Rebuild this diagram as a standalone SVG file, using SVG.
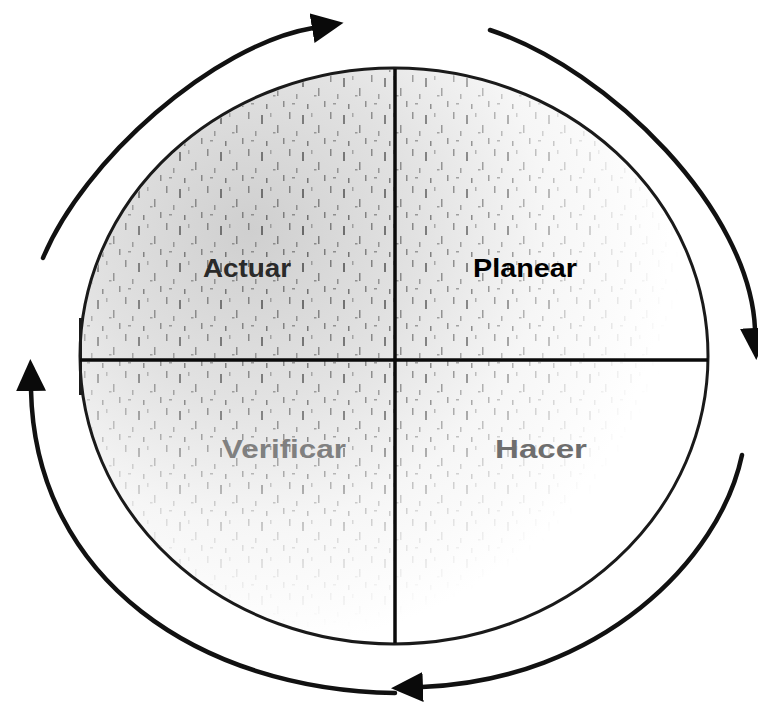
<svg xmlns="http://www.w3.org/2000/svg" width="758" height="702" viewBox="0 0 758 702">
  <style>
    .arc { fill: none; stroke: #111; stroke-width: 4.5; stroke-linecap: round; }
    .rim { fill: url(#shade); stroke: #1a1a1a; stroke-width: 3; }
    .axis { stroke: #0a0a0a; stroke-width: 3.5; }
    .lbl { font-family: "Liberation Sans", Arial, sans-serif; font-size: 26px; font-weight: bold; text-anchor: middle; }
  </style>
  <defs>
    <marker id="head" markerUnits="userSpaceOnUse" markerWidth="34" markerHeight="32" refX="1" refY="15" orient="auto">
      <path d="M0,0 L32,15 L0,30 z" fill="#0a0a0a"/>
    </marker>
    <radialGradient id="shade" cx="250" cy="230" r="420" gradientUnits="userSpaceOnUse">
      <stop offset="0" stop-color="#cfcfcf"/>
      <stop offset="0.4" stop-color="#e2e2e2"/>
      <stop offset="0.7" stop-color="#f6f6f6"/>
      <stop offset="1" stop-color="#ffffff"/>
    </radialGradient>
    <radialGradient id="fade" cx="300" cy="250" r="380" gradientUnits="userSpaceOnUse">
      <stop offset="0" stop-color="#fff"/>
      <stop offset="0.5" stop-color="#bbb"/>
      <stop offset="0.8" stop-color="#333"/>
      <stop offset="1" stop-color="#000"/>
    </radialGradient>
    <mask id="speckMask">
      <ellipse cx="394" cy="356" rx="312" ry="286" fill="url(#fade)"/>
    </mask>
    <pattern id="speck" width="41" height="37" patternUnits="userSpaceOnUse">
      <rect x="2" y="1" width="1.5" height="7" fill="#777"/>
      <rect x="9" y="20" width="1.5" height="5" fill="#888"/>
      <rect x="15" y="4" width="2" height="9" fill="#666"/>
      <rect x="31" y="14" width="1.5" height="8" fill="#7a7a7a"/>
      <rect x="5" y="29" width="3" height="1.5" fill="#888"/>
      <rect x="24" y="2" width="1.5" height="4" fill="#999"/>
      <rect x="37" y="27" width="1.5" height="6" fill="#777"/>
      <rect x="20" y="30" width="1.5" height="5" fill="#6a6a6a"/>
      <rect x="27" y="21" width="2.5" height="1.5" fill="#888"/>
    </pattern>
  </defs>

  <g id="circle">
    <ellipse class="rim" cx="394" cy="356" rx="314" ry="288"/>
    <rect x="82" y="70" width="626" height="574" fill="url(#speck)" mask="url(#speckMask)"/>
    <line x1="80.5" y1="318" x2="80.5" y2="395" stroke="#1a1a1a" stroke-width="3"/>
    <line class="axis" x1="80" y1="360" x2="708" y2="360"/>
    <line class="axis" x1="395" y1="69" x2="395" y2="643"/>
  </g>

  <g id="actuar"><text class="lbl" x="247" y="277" fill="#2a2a2a" textLength="88" lengthAdjust="spacingAndGlyphs">Actuar</text></g>
  <g id="planear"><text class="lbl" x="525" y="277" fill="#000" textLength="104" lengthAdjust="spacingAndGlyphs">Planear</text></g>
  <g id="verificar"><text class="lbl" x="284" y="458" fill="#808080" textLength="124" lengthAdjust="spacingAndGlyphs">Verificar</text></g>
  <g id="hacer"><text class="lbl" x="541" y="458" fill="#6e6e6e" textLength="92" lengthAdjust="spacingAndGlyphs">Hacer</text></g>

  <g id="connectors">
    <path class="arc" d="M43,258 C83,161 213,45 313,28" marker-end="url(#head)"/>
    <path class="arc" d="M490,30 C610,70 750,210 755,329" marker-end="url(#head)"/>
    <path class="arc" d="M742,455 C720,560 600,680 422,687" marker-end="url(#head)"/>
    <path class="arc" d="M395,693 C200,690 35,580 31,390" marker-end="url(#head)"/>
  </g>
</svg>
